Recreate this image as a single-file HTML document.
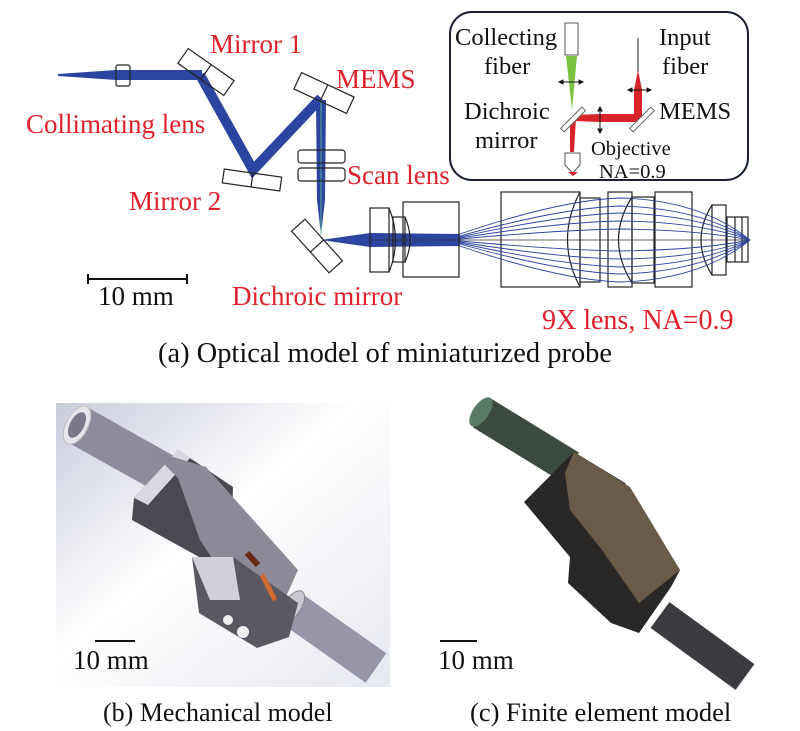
<!DOCTYPE html>
<html><head><meta charset="utf-8"><style>
html,body{margin:0;padding:0;background:#fff;}
svg{display:block;}
text{font-family:"Liberation Serif",serif;}
.r{fill:#e0202a;font-size:27px;}
.k{fill:#111;font-size:27px;}
.i{fill:#111;font-size:24.5px;}
.o{fill:none;stroke:#222;stroke-width:1.2;}
</style></head><body>
<svg width="800" height="731" viewBox="0 0 800 731" xmlns="http://www.w3.org/2000/svg">
<defs>
<linearGradient id="bg" x1="0" y1="0" x2="1" y2="1">
<stop offset="0" stop-color="#c9ccdc"/><stop offset="0.45" stop-color="#ffffff"/><stop offset="1" stop-color="#e6e8f0"/>
</linearGradient>
</defs>
<g fill="#2b45a0">
<polygon points="58,74 116,70 116,80 58,76"/>
<rect x="116" y="70" width="86" height="10"/>
</g>
<g stroke="#2b45a0" stroke-width="10" fill="none" stroke-linejoin="miter">
<polyline points="200,75 253,170 321,98"/>
</g>
<polygon points="316,100 326,100 325,200 321,235 317,200" fill="#2b45a0"/>
<polygon points="321,240 370,233 460,234 460,246 370,247" fill="#2b45a0"/>
<line x1="321" y1="100" x2="321" y2="235" stroke="#6fd08a" stroke-width="0.7"/>
<rect x="116" y="65" width="14" height="21" rx="2" class="o"/>
<g class="o">
<g transform="translate(206,72) rotate(35)"><rect x="-28" y="-9" width="56" height="18"/><line x1="0" y1="-9" x2="0" y2="9"/></g>
<g transform="translate(252,180) rotate(8)"><rect x="-29" y="-7" width="58" height="14"/><line x1="0" y1="-7" x2="0" y2="7"/></g>
<g transform="translate(324,93) rotate(25)"><rect x="-29" y="-9" width="58" height="18"/><line x1="0" y1="-9" x2="0" y2="9"/></g>
<g transform="translate(317,246) rotate(48)"><rect x="-28" y="-9" width="56" height="18"/><line x1="0" y1="-9" x2="0" y2="9"/></g>
<rect x="298" y="150" width="47" height="13" rx="3"/>
<rect x="298" y="168" width="47" height="13" rx="3"/>
<rect x="370" y="208" width="19" height="64"/>
<path d="M389,208 Q402,240 389,272"/>
<rect x="393" y="217" width="12" height="45"/>
<path d="M405,217 Q415,240 405,262"/>
<rect x="403" y="202" width="56" height="75"/>
<rect x="501" y="192" width="79" height="95"/>
<path d="M580,192 Q555,240 580,287"/>
<rect x="580" y="198" width="20" height="84"/>
<rect x="608" y="192" width="24" height="95"/>
<path d="M632,197 Q605,240 632,283"/>
<rect x="632" y="197" width="22" height="86"/>
<rect x="655" y="192" width="37" height="95"/>
<path d="M712,205 Q690,240 712,275"/>
<rect x="712" y="205" width="14" height="70"/>
<rect x="727" y="217" width="21" height="45"/>
<line x1="735" y1="217" x2="735" y2="262"/><line x1="742" y1="217" x2="742" y2="262"/>
</g>
<g fill="none" stroke="#2b45a0" stroke-width="0.9">
<path d="M460,234 Q560,200 620,198 Q700,200 750,240"/>
<path d="M460,236 Q560,208 620,206 Q700,208 750,240"/>
<path d="M460,237 Q560,215 620,213 Q700,215 750,240"/>
<path d="M460,238 Q560,222 620,221 Q700,222 750,240"/>
<path d="M460,239 Q560,230 620,229 Q700,230 750,240"/>
<path d="M460,246 Q560,280 620,282 Q700,280 750,240"/>
<path d="M460,244 Q560,272 620,274 Q700,272 750,240"/>
<path d="M460,243 Q560,265 620,267 Q700,265 750,240"/>
<path d="M460,242 Q560,258 620,259 Q700,258 750,240"/>
<path d="M460,241 Q560,250 620,251 Q700,250 750,240"/>
</g>
<line x1="370" y1="240" x2="750" y2="240" stroke="#333" stroke-width="0.8"/>
<g stroke="#111" stroke-width="2"><line x1="87" y1="279" x2="188" y2="279"/><line x1="88" y1="274" x2="88" y2="284"/><line x1="187" y1="274" x2="187" y2="284"/></g>
<text x="210" y="53" class="r">Mirror 1</text>
<text x="336" y="88" class="r">MEMS</text>
<text x="26" y="133" class="r">Collimating lens</text>
<text x="129" y="210" class="r">Mirror 2</text>
<text x="347" y="184" class="r">Scan lens</text>
<text x="232" y="305" class="r">Dichroic mirror</text>
<text x="98" y="305" class="k">10 mm</text>
<text x="542" y="329" class="r" style="font-size:28px">9X lens, NA=0.9</text>
<text x="158" y="362" style="font-size:28px;fill:#111" textLength="454" lengthAdjust="spacingAndGlyphs">(a) Optical model of miniaturized probe</text>
<rect x="450" y="12" width="298" height="168" rx="22" fill="#fff" stroke="#1a2030" stroke-width="2"/>
<rect x="565" y="23" width="13" height="32" fill="#fff" stroke="#555"/>
<polygon points="566,56 577,56 572,110" fill="#7cc242"/>
<line x1="638" y1="38" x2="638" y2="72" stroke="#222" stroke-width="1"/>
<polygon points="638,70 642,90 642,118 634,118 634,90" fill="#d9232a"/>
<polygon points="573,115 600,114 642,114 642,122 600,122 573,121" fill="#d9232a"/>
<polygon points="570,118 576,118 574,152 570,152" fill="#d9232a"/>
<path d="M565,153 h15 v12 l-7.5,8 l-7.5,-8 z" fill="#fff" stroke="#555"/>
<polygon points="568,172 578,172 573,176" fill="#d9232a"/>
<g stroke="#666" fill="#fff"><rect x="558" y="117" width="30" height="5" transform="rotate(-45 573 119.5)"/><rect x="627" y="117" width="30" height="5" transform="rotate(-45 642 119.5)"/></g>
<g stroke="#111" stroke-width="1" fill="#111">
<line x1="559" y1="82" x2="583" y2="82"/><path d="M559,82 l4,-2 v4 z M583,82 l-4,-2 v4 z"/>
<line x1="628" y1="90" x2="651" y2="90"/><path d="M628,90 l4,-2 v4 z M651,90 l-4,-2 v4 z"/>
<line x1="600" y1="107" x2="600" y2="133"/><path d="M600,107 l-2,4 h4 z M600,133 l-2,-4 h4 z"/>
</g>
<text x="455" y="45" class="i">Collecting</text>
<text x="484" y="74" class="i">fiber</text>
<text x="464" y="119" class="i">Dichroic</text>
<text x="475" y="148" class="i">mirror</text>
<text x="659" y="45" class="i">Input</text>
<text x="662" y="74" class="i">fiber</text>
<text x="659" y="119" class="i">MEMS</text>
<text x="591" y="155" style="font-size:20.5px;fill:#111">Objective</text>
<text x="599" y="178" style="font-size:20.5px;fill:#111">NA=0.9</text>
<rect x="56" y="403" width="334" height="284" fill="url(#bg)"/>
<line x1="78" y1="425" x2="176" y2="480" stroke="#8e8c9c" stroke-width="40"/>
<ellipse cx="77" cy="425" rx="11" ry="21" transform="rotate(28 77 425)" fill="#e4e4ea" stroke="#bbb"/>
<ellipse cx="77" cy="425" rx="7" ry="14" transform="rotate(28 77 425)" fill="#7a7888"/>
<line x1="291" y1="608" x2="376" y2="668" stroke="#9795a8" stroke-width="36"/>
<ellipse cx="291" cy="608" rx="9" ry="20" transform="rotate(35 291 608)" fill="#c8c8d0" stroke="#888"/>
<polygon points="134,498 178,450 233,487 231,547 210,563 132,520" fill="#4a4850"/>
<polygon points="134,498 178,450 190,458 148,505" fill="#d8d8e0"/>
<polygon points="150,450 206,467 298,570 280,610 238,597 200,540 178,478" fill="#8c8a96"/>
<polygon points="192,557 233,557 298,603 289,637 257,648 199,613" fill="#5a5860"/>
<polygon points="192,557 233,557 240,600 210,600" fill="#d0d0d8"/>
<circle cx="228" cy="620" r="5" fill="#eee"/><circle cx="243" cy="632" r="6" fill="#eee"/>
<line x1="247" y1="553" x2="258" y2="565" stroke="#6a2a18" stroke-width="6"/>
<line x1="262" y1="575" x2="275" y2="600" stroke="#d06a30" stroke-width="5"/>
<line x1="95" y1="641" x2="135" y2="641" stroke="#111" stroke-width="2"/>
<text x="73" y="669" class="k">10 mm</text>
<text x="103" y="721" class="k" style="font-size:26px">(b) Mechanical model</text>
<line x1="482" y1="413" x2="570" y2="467" stroke="#3c4a40" stroke-width="34"/>
<ellipse cx="481" cy="412" rx="8" ry="17" transform="rotate(35 481 412)" fill="#5a7a68"/>
<line x1="660" y1="615" x2="745" y2="677" stroke="#3a3c42" stroke-width="32"/>
<polygon points="524,502 574,452 625,483 680,570 671,587 639,633 611,623 568,583 570,557" fill="#2a2826"/>
<polygon points="565,473 574,452 630,487 680,570 639,603 602,550 570,510" fill="#6a5a48"/>
<line x1="440" y1="641" x2="477" y2="641" stroke="#111" stroke-width="2"/>
<text x="438" y="669" class="k">10 mm</text>
<text x="470" y="721" class="k" style="font-size:26.5px">(c) Finite element model</text>
</svg>
</body></html>
